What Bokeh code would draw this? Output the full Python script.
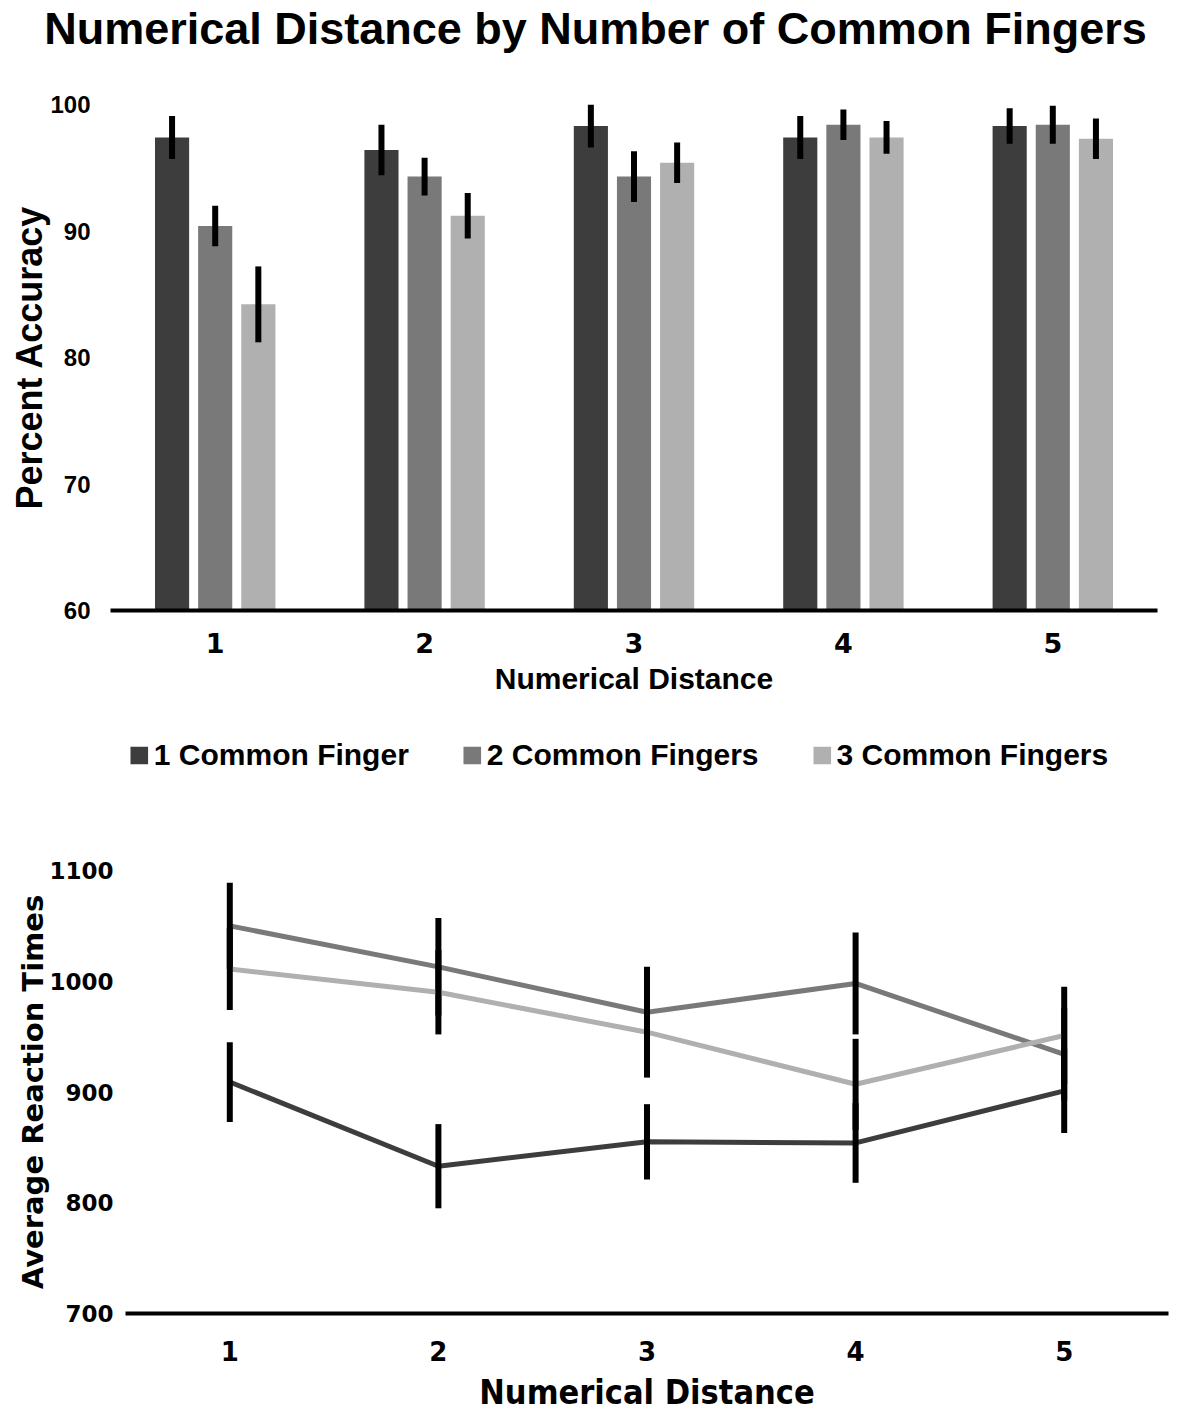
from bokeh.plotting import figure
from bokeh.models import ColumnDataSource, FactorRange, Legend, LegendItem
from bokeh.transform import dodge
from bokeh.layouts import column
from bokeh.embed import file_html
from bokeh.resources import INLINE

distances = ["1", "2", "3", "4", "5"]
series = ["1 Common Finger", "2 Common Fingers", "3 Common Fingers"]
colors = ["#3d3d3d", "#797979", "#b0b0b0"]

# percent accuracy (bar heights) and error half-widths
acc_one = [97.4, 96.4, 98.3, 97.4, 98.3]
acc_one_err = [1.7, 2.0, 1.7, 1.7, 1.4]
acc_two = [90.4, 94.3, 94.3, 98.4, 98.4]
acc_two_err = [1.6, 1.5, 2.0, 1.2, 1.5]
acc_three = [84.2, 91.2, 95.4, 97.4, 97.3]
acc_three_err = [3.0, 1.8, 1.6, 1.3, 1.6]

# average reaction times and error half-widths
rt_one = [909, 833, 855, 854, 901]
rt_one_err = [36, 38, 34, 36, 38]
rt_two = [1050, 1013, 972, 998, 934]
rt_two_err = [39, 44, 41, 46, 42]
rt_three = [1011, 990, 954, 907, 951]
rt_three_err = [37, 38, 41, 41, 44]

acc_vals = [acc_one, acc_two, acc_three]
acc_errs = [acc_one_err, acc_two_err, acc_three_err]
rt_vals = [rt_one, rt_two, rt_three]
rt_errs = [rt_one_err, rt_two_err, rt_three_err]

offsets = [-0.206, 0.0, 0.206]


def style_axes(fig):
	fig.xgrid.grid_line_color = None
	fig.ygrid.grid_line_color = None
	fig.outline_line_color = None
	fig.xaxis.axis_line_width = 4
	fig.xaxis.axis_line_color = "black"
	fig.yaxis.axis_line_color = None
	for ax in fig.xaxis + fig.yaxis:
		ax.major_tick_line_color = None
		ax.minor_tick_line_color = None
		ax.major_tick_out = 0
		ax.major_tick_in = 0
		ax.axis_label_text_font_style = "bold"
		ax.major_label_text_font_style = "bold"
		ax.major_label_text_color = "black"
		ax.axis_label_text_color = "black"


def strip(height, left, right):
	# an axis-less figure used only to hold the title or the legend
	s = figure(x_range=FactorRange(*distances), y_range=(0, 1), width=1181, height=height,
			   output_backend="svg", toolbar_location=None, x_axis_location=None,
			   y_axis_location=None, min_border_left=left, min_border_right=right,
			   min_border_top=0, min_border_bottom=0)
	s.grid.visible = False
	s.outline_line_color = None
	return s


# ---- title strip ----
head = strip(70, 9, 0)
head.title.text = "Numerical Distance by Number of Common Fingers"
head.title.text_font = "Liberation Sans"
head.title.text_font_size = "45px"
head.title.text_font_style = "bold"
head.title.text_color = "black"
head.title.align = "center"
head.title.standoff = 0

# ---- top: bar chart of accuracy ----
p = figure(x_range=FactorRange(*distances), y_range=(60, 100),
		   width=1181, height=650, output_backend="svg", toolbar_location=None,
		   min_border_left=110, min_border_right=24, min_border_top=34, min_border_bottom=110)

bar_renderers = []
for i in range(3):
	src = ColumnDataSource(dict(
		x=distances,
		top=acc_vals[i],
		lo=[v - e for v, e in zip(acc_vals[i], acc_errs[i])],
		hi=[v + e for v, e in zip(acc_vals[i], acc_errs[i])],
	))
	r = p.vbar(x=dodge("x", offsets[i], range=p.x_range), top="top", bottom=60, width=0.163,
			   fill_color=colors[i], line_color=None, source=src)
	p.segment(x0=dodge("x", offsets[i], range=p.x_range), x1=dodge("x", offsets[i], range=p.x_range),
			  y0="lo", y1="hi", line_width=6, line_color="black", source=src)
	bar_renderers.append(r)

style_axes(p)
p.yaxis.ticker = [60, 70, 80, 90, 100]
p.yaxis.axis_label = "Percent Accuracy"
p.yaxis.axis_label_text_font = "Liberation Sans"
p.yaxis.axis_label_text_font_size = "36px"
p.yaxis.axis_label_standoff = -3
p.yaxis.major_label_text_font = "Liberation Sans"
p.yaxis.major_label_text_font_size = "24px"
p.yaxis.major_label_standoff = 20
p.xaxis.axis_label = "Numerical Distance"
p.xaxis.axis_label_text_font = "Liberation Sans"
p.xaxis.axis_label_text_font_size = "30px"
p.xaxis.axis_label_standoff = 6
p.xaxis.major_label_text_font = "DejaVu Sans"
p.xaxis.major_label_text_font_size = "27px"
p.xaxis.major_label_standoff = 22

# ---- legend strip between the two charts ----
leg = strip(70, 55, 0)
swatches = []
for i in range(3):
	# zero-size bars outside the strip's range: only their legend swatches show
	swatches.append(leg.vbar(x=distances, top=acc_vals[i], bottom=acc_vals[i], width=0,
							 fill_color=colors[i], line_color=None))
legend = Legend(items=[LegendItem(label=series[i], renderers=[swatches[i]]) for i in range(3)],
				orientation="horizontal", location="center", border_line_color=None,
				background_fill_alpha=0, glyph_width=22, glyph_height=22, spacing=52,
				label_standoff=4, margin=0, padding=5,
				label_text_font="Liberation Sans", label_text_font_style="bold",
				label_text_font_size="30px", label_text_color="black")
leg.add_layout(legend)

# ---- bottom: line chart of reaction times ----
q = figure(x_range=FactorRange(*distances), y_range=(700, 1100),
		   width=1181, height=630, output_backend="svg", toolbar_location=None,
		   min_border_left=125, min_border_right=13, min_border_top=80, min_border_bottom=107)
for i in range(3):
	src = ColumnDataSource(dict(
		x=distances,
		y=rt_vals[i],
		lo=[v - e for v, e in zip(rt_vals[i], rt_errs[i])],
		hi=[v + e for v, e in zip(rt_vals[i], rt_errs[i])],
	))
	q.line(x="x", y="y", line_width=5, line_color=colors[i], source=src)
	q.segment(x0="x", x1="x", y0="lo", y1="hi", line_width=6, line_color="black", source=src)

style_axes(q)
q.yaxis.ticker = [700, 800, 900, 1000, 1100]
q.yaxis.axis_label = "Average Reaction Times"
q.yaxis.axis_label_text_font = "DejaVu Sans"
q.yaxis.axis_label_text_font_size = "29px"
q.yaxis.axis_label_standoff = -4
q.yaxis.major_label_text_font = "DejaVu Sans"
q.yaxis.major_label_text_font_size = "23px"
q.yaxis.major_label_standoff = 12
q.xaxis.axis_label = "Numerical Distance"
q.xaxis.axis_label_text_font = "DejaVu Sans Condensed"
q.xaxis.axis_label_text_font_size = "34px"
q.xaxis.axis_label_standoff = 8
q.xaxis.major_label_text_font = "DejaVu Sans"
q.xaxis.major_label_text_font_size = "26px"
q.xaxis.major_label_standoff = 27

# each figure gets its own column so their frames are not lined up with each other
layout = column(column(head), column(p), column(leg), column(q))
open("out.html", "w").write(file_html(layout, INLINE))
